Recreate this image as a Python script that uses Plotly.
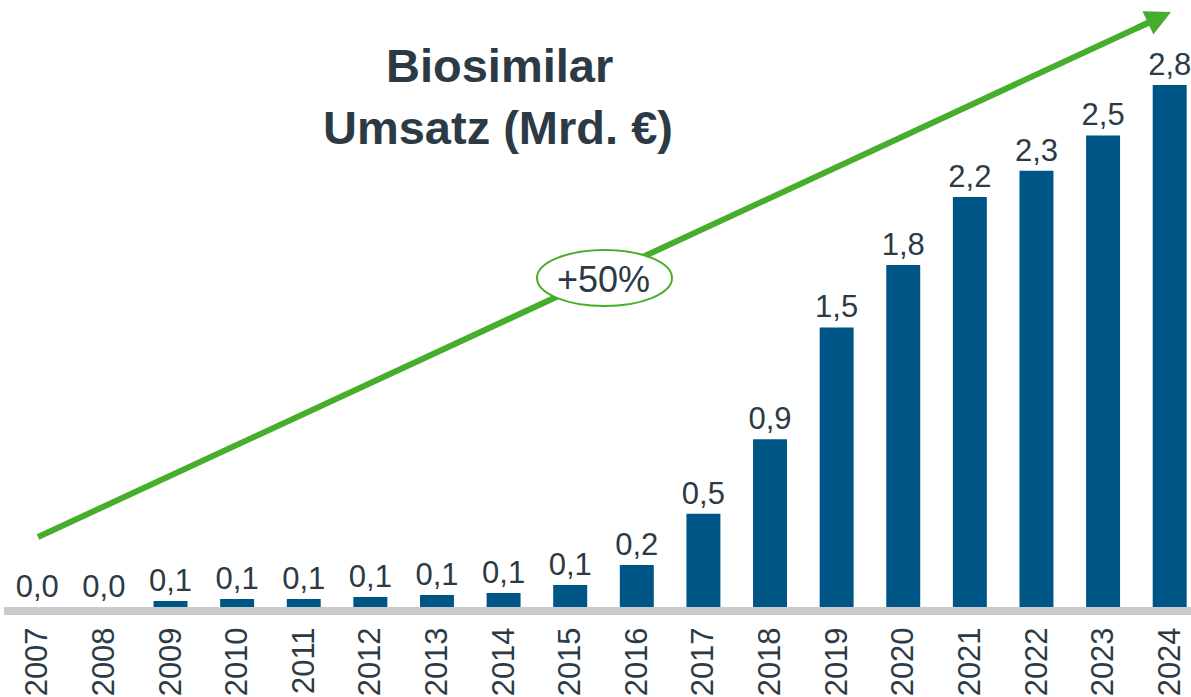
import plotly.graph_objects as go

years = [str(y) for y in range(2007, 2025)]
umsatz = [0.0, 0.0, 0.032, 0.043, 0.043, 0.054, 0.064, 0.075, 0.118, 0.225,
          0.50, 0.90, 1.50, 1.835, 2.20, 2.34, 2.53, 2.80]
labels = ["0,0", "0,0", "0,1", "0,1", "0,1", "0,1", "0,1", "0,1", "0,1", "0,2",
          "0,5", "0,9", "1,5", "1,8", "2,2", "2,3", "2,5", "2,8"]

BAR = "#005587"
TXT = "#2C3A45"
GREEN = "#47AE2B"
AXIS = "#C8CACD"
FONT = "Arial, Liberation Sans, sans-serif"

W, H = 1191, 697
ML, MR, MT, MB = 4, 0, 20, 90
PW, PH = W - ML - MR, H - MT - MB


def px(x):
    return (x - ML) / PW


def py(y):
    return (H - MB - y) / PH


fig = go.Figure(go.Bar(
    x=years, y=umsatz, text=labels, textposition="outside",
    textfont=dict(size=31, color=TXT, family=FONT),
    marker=dict(color=BAR, line=dict(width=0)),
    constraintext="none", cliponaxis=False, hoverinfo="skip",
))

fig.update_layout(
    width=W, height=H,
    margin=dict(l=ML, r=MR, t=MT, b=MB, autoexpand=False),
    plot_bgcolor="white", paper_bgcolor="white",
    bargap=0.49, showlegend=False,
    font=dict(family=FONT, color=TXT),
    xaxis=dict(
        range=[-0.5, 17.32], tickangle=-90, showgrid=False, zeroline=False,
        showline=True, linecolor=AXIS, linewidth=8, ticks="", automargin=False,
        tickfont=dict(size=31, color=TXT, family=FONT), fixedrange=True,
    ),
    yaxis=dict(
        range=[0, PH / 186.4], visible=False, showgrid=False, zeroline=False,
        fixedrange=True,
    ),
    shapes=[
        dict(type="line", xref="paper", yref="paper",
             x0=px(38), y0=py(537), x1=px(1150), y1=py(22),
             line=dict(color=GREEN, width=6), layer="above"),
        dict(type="circle", xref="paper", yref="paper",
             x0=px(537), x1=px(672), y0=py(306), y1=py(250),
             fillcolor="white", line=dict(color=GREEN, width=2), layer="above"),
    ],
    annotations=[
        dict(xref="paper", yref="paper", x=px(1171), y=py(12),
             ax=-36, ay=17, showarrow=True, arrowhead=2, arrowsize=0.85,
             arrowwidth=6, arrowcolor=GREEN, text=""),
        dict(xref="paper", yref="paper", x=px(604), y=py(279),
             xanchor="center", yanchor="middle",
             text="+50%", showarrow=False,
             font=dict(size=36, color=TXT, family=FONT)),
        dict(xref="paper", yref="paper", x=px(500), y=py(66),
             xanchor="center", yanchor="middle",
             text="<b>Biosimilar</b>", showarrow=False,
             font=dict(size=47, color=TXT, family=FONT)),
        dict(xref="paper", yref="paper", x=px(498), y=py(127),
             xanchor="center", yanchor="middle",
             text="<b>Umsatz (Mrd. €)</b>", showarrow=False,
             font=dict(size=47, color=TXT, family=FONT)),
    ],
)

fig.write_html(
    "out.html",
    config={"displayModeBar": False, "staticPlot": True},
    post_script="document.body.style.margin='0';document.body.style.overflow='hidden';",
)
